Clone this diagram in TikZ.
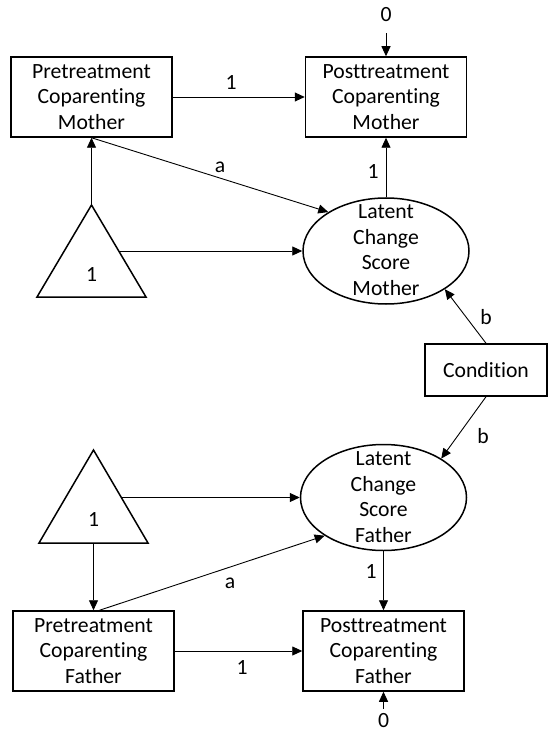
\documentclass[tikz,border=0pt]{standalone}
\usepackage{fontspec}
\setmainfont[Ligatures=NoCommon]{Carlito}
\usetikzlibrary{arrows.meta,shapes.geometric}
\begin{document}
\begin{tikzpicture}[x=1pt,y=-1pt,
  txt/.style={font=\fontsize{21.7}{25.5}\selectfont, align=center},
  box/.style={txt, draw, line width=1.5pt, minimum width=161pt, minimum height=80pt, inner sep=0pt},
  lcs/.style={draw, ellipse, line width=1.5pt, minimum width=166pt, minimum height=106pt, inner sep=0pt},
  lbl/.style={txt, inner sep=0pt},
  shp/.style={draw, line width=1.5pt, line join=miter},
  arr/.style={draw, line width=0.9pt, -{Triangle[length=10pt,width=9pt]}}
]
\useasboundingbox (0,0) rectangle (548,735);

% Mother part
\node[box] (premom) at (91.5,97) {Pretreatment\\Coparenting\\Mother};
\node[box] (postmom) at (386,97) {Posttreatment\\Coparenting\\Mother};
\node[lcs] (lcsmom) at (386,251) {};
\node[txt] (lcsmomtext) at (386,250) {Latent\\Change\\Score\\Mother};
\draw[shp] (91.5,205) -- (146,297) -- (37,297) -- cycle;
\coordinate (trimomtop) at (91.5,205);
\coordinate (trimomright) at (119,251);
\node[lbl] (trimomone) at (91.5,275) {1};
\node[lbl] (zerotop) at (386,15) {0};

% Condition
\node[box, minimum width=122pt, minimum height=52pt] (cond) at (486,370) {Condition};

% Father part
\node[lcs] (lcsdad) at (383.5,497.5) {};
\node[txt] (lcsdadtext) at (383.5,497) {Latent\\Change\\Score\\Father};
\draw[shp] (93.5,450) -- (148,543) -- (39,543) -- cycle;
\coordinate (tridadbot) at (93.5,543);
\coordinate (tridadright) at (121,497.5);
\node[lbl] (tridadone) at (93.5,520) {1};
\node[box] (predad) at (93.5,651) {Pretreatment\\Coparenting\\Father};
\node[box] (postdad) at (383.5,651) {Posttreatment\\Coparenting\\Father};
\node[lbl] (zerobot) at (383.5,721) {0};

% Connectors mother
\draw[arr] (premom) -- (postmom);
\node[lbl] (lpp1) at (231,83) {1};
\draw[arr] (trimomtop) -- (premom.south);
\draw[arr] (trimomright) -- (lcsmom.west);
\draw[arr] (premom.south) -- (lcsmom.146);
\node[lbl] (lam) at (220,167) {a};
\draw[arr] (lcsmom.north) -- (postmom.south);
\node[lbl] (lm1) at (373,172) {1};
\draw[arr, shorten <=11pt] (zerotop) -- (postmom.north);

% Condition connectors
\draw[arr] (cond.north) -- (lcsmom.-33);
\node[lbl] (lbm) at (486,317) {b};
\draw[arr] (cond.south) -- (lcsdad.34);
\node[lbl] (lbd) at (483,436) {b};

% Connectors father
\draw[arr] (tridadright) -- (lcsdad.west);
\draw[arr] (tridadbot) -- (predad.north);
\draw[arr] ([xshift=6pt]predad.north) -- (lcsdad.213);
\node[lbl] (lad) at (230,583) {a};
\draw[arr] (lcsdad.south) -- (postdad.north);
\node[lbl] (ld1) at (371,572) {1};
\draw[arr] (predad) -- (postdad);
\node[lbl] (lpp2) at (242,668) {1};
\draw[arr, shorten <=5pt] (zerobot) -- (postdad.south);
\end{tikzpicture}
\end{document}
